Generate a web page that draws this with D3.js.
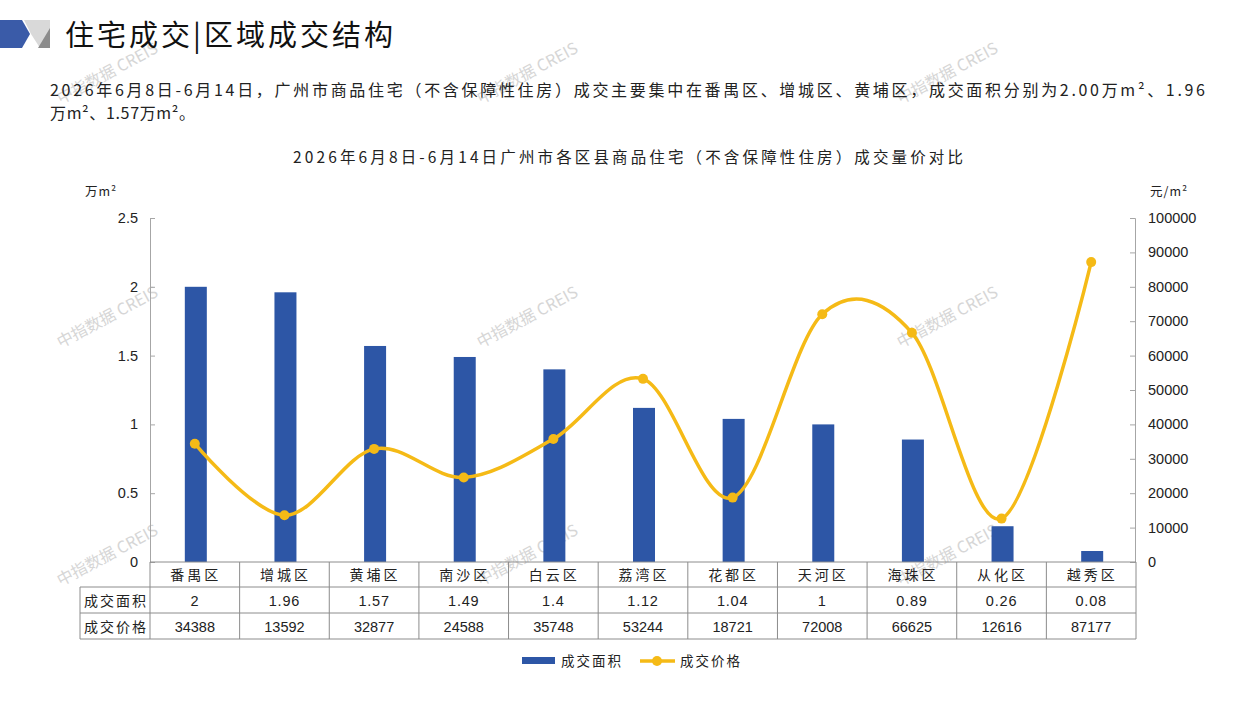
<!DOCTYPE html>
<html>
<head>
<meta charset="utf-8">
<script src="https://cdn.jsdelivr.net/npm/d3@7"></script>
<style>
  body { margin: 0; background: #fff; }
  svg { display: block; }
  .cn { font-family: "Noto Sans CJK SC", sans-serif; }
  .num { font-family: "Liberation Sans", Arial, sans-serif; }
</style>
</head>
<body>
<script>
// district names, area (万m²) and price (元/m²)
var districts = ["番禺区", "增城区", "黄埔区", "南沙区", "白云区", "荔湾区", "花都区", "天河区", "海珠区", "从化区", "越秀区"];
var areaValues = [2, 1.96, 1.57, 1.49, 1.4, 1.12, 1.04, 1, 0.89, 0.26, 0.08];
var priceValues = [34388, 13592, 32877, 24588, 35748, 53244, 18721, 72008, 66625, 12616, 87177];
var areaTicks = [0, 0.5, 1, 1.5, 2, 2.5];
var priceTicks = [0, 10000, 20000, 30000, 40000, 50000, 60000, 70000, 80000, 90000, 100000];
var rowNames = ["成交面积", "成交价格"];

var pageTitle = "住宅成交|区域成交结构";
var paraLine1 = "2026年6月8日-6月14日，广州市商品住宅（不含保障性住房）成交主要集中在番禺区、增城区、黄埔区，成交面积分别为2.00万m²、1.96";
var paraLine2 = "万m²、1.57万m²。";
var chartTitle = "2026年6月8日-6月14日广州市各区县商品住宅（不含保障性住房）成交量价对比";

window.onload = draw();

function draw(){
    var width = 1257, height = 706;
    var blue = "#2D56A6", yellow = "#F5BA16", grey = "#A6A6A6", ink = "#222";

    var svg = d3.select("body").append("svg")
        .attr("width", width)
        .attr("height", height);

    //watermarks
    var wmX = [110, 530, 950], wmY = [78, 322, 560];
    wmY.forEach(function(y){
        wmX.forEach(function(x){
            svg.append("text")
                .attr("class", "cn")
                .attr("transform", "translate(" + x + "," + y + ") rotate(-28)")
                .attr("text-anchor", "middle")
                .attr("font-size", 16)
                .attr("fill", "#d6d6d6")
                .text("中指数据 CREIS");
        });
    });

    //logo in the corner
    svg.append("polygon").attr("points", "0,20 22,20 30,34 22,48 0,48").attr("fill", "#3A5BA8");
    svg.append("polygon").attr("points", "24,20 50,20 50,48 40,48 31,34").attr("fill", "#D9D9D9");
    svg.append("polygon").attr("points", "50,28 50,48 38,48").attr("fill", "#8C8C8C");

    svg.append("text").attr("class", "cn")
        .attr("x", 65).attr("y", 46)
        .attr("font-size", 29).attr("fill", "#111")
        .attr("textLength", 328).attr("lengthAdjust", "spacing")
        .text(pageTitle);

    svg.append("text").attr("class", "cn")
        .attr("x", 50).attr("y", 96)
        .attr("font-size", 16).attr("fill", ink)
        .attr("textLength", 1155).attr("lengthAdjust", "spacing")
        .text(paraLine1);
    svg.append("text").attr("class", "cn")
        .attr("x", 50).attr("y", 119)
        .attr("font-size", 16).attr("fill", ink)
        .attr("textLength", 145).attr("lengthAdjust", "spacing")
        .text(paraLine2);

    svg.append("text").attr("class", "cn")
        .attr("x", 628).attr("y", 163)
        .attr("text-anchor", "middle")
        .attr("font-size", 15.5).attr("fill", ink)
        .attr("textLength", 670).attr("lengthAdjust", "spacing")
        .text(chartTitle);

    //plot area
    var left = 150, right = 1136, top = 218, bottom = 562;

    var x = d3.scaleBand()
        .domain(districts)
        .range([left, right]);

    var yArea = d3.scaleLinear().domain([0, 2.5]).range([bottom, top]);
    var yPrice = d3.scaleLinear().domain([0, 100000]).range([bottom, top]);

    var leftAxis = svg.append("g")
        .attr("transform", "translate(" + left + ",0)")
        .call(d3.axisRight(yArea).tickValues(areaTicks).tickSize(5).tickFormat(""));
    leftAxis.selectAll("path, line").attr("stroke", grey);

    svg.selectAll(".ltick").data(areaTicks).enter().append("text")
        .attr("class", "num ltick")
        .attr("x", 138).attr("y", function(d){ return yArea(d) + 5; })
        .attr("text-anchor", "end")
        .attr("font-size", 14.5).attr("fill", ink)
        .text(function(d){ return d; });

    var rightAxis = svg.append("g")
        .attr("transform", "translate(" + (right - 1) + ",0)")
        .call(d3.axisLeft(yPrice).tickValues(priceTicks).tickSize(5).tickFormat(""));
    rightAxis.selectAll("path, line").attr("stroke", grey);

    svg.selectAll(".rtick").data(priceTicks).enter().append("text")
        .attr("class", "num rtick")
        .attr("x", 1148).attr("y", function(d){ return yPrice(d) + 5; })
        .attr("font-size", 14.5).attr("fill", ink)
        .text(function(d){ return d; });

    svg.append("text").attr("class", "cn")
        .attr("x", 85).attr("y", 196)
        .attr("font-size", 12.5).attr("letter-spacing", 1).attr("fill", ink)
        .text("万m²");
    svg.append("text").attr("class", "cn")
        .attr("x", 1150).attr("y", 196)
        .attr("font-size", 12.5).attr("letter-spacing", 1).attr("fill", ink)
        .text("元/m²");

    //bars
    var barW = 22;
    svg.selectAll(".bar").data(areaValues).enter().append("rect")
        .attr("class", "bar")
        .attr("x", function(d, i){ return x(districts[i]) + x.bandwidth() / 2 - barW / 2 + 1; })
        .attr("y", function(d){ return yArea(d); })
        .attr("width", barW)
        .attr("height", function(d){ return bottom - yArea(d); })
        .attr("fill", blue);

    //smoothed price line
    var line = d3.line()
        .x(function(d, i){ return x(districts[i]) + x.bandwidth() / 2; })
        .y(function(d){ return yPrice(d); })
        .curve(d3.curveCardinal.tension(0));

    svg.append("path")
        .datum(priceValues)
        .attr("d", line)
        .attr("fill", "none")
        .attr("stroke", yellow)
        .attr("stroke-width", 3.5);

    svg.selectAll(".dot").data(priceValues).enter().append("circle")
        .attr("class", "dot")
        .attr("cx", function(d, i){ return x(districts[i]) + x.bandwidth() / 2; })
        .attr("cy", function(d){ return yPrice(d); })
        .attr("r", 5)
        .attr("fill", yellow);

    //data table under the plot
    var rowH = [562, 587, 613, 639];
    var tableLeft = 80;
    var border = "#8c8c8c";
    var table = svg.append("g").attr("stroke", border).attr("stroke-width", 1).attr("fill", "none");

    table.append("line").attr("x1", left).attr("x2", right).attr("y1", rowH[0]).attr("y2", rowH[0]);
    [1, 2, 3].forEach(function(r){
        table.append("line").attr("x1", tableLeft).attr("x2", right).attr("y1", rowH[r]).attr("y2", rowH[r]);
    });
    table.append("line").attr("x1", tableLeft).attr("x2", tableLeft).attr("y1", rowH[1]).attr("y2", rowH[3]);
    var colEdges = [left].concat(districts.map(function(d){ return x(d) + x.bandwidth(); }));
    colEdges.forEach(function(cx){
        table.append("line").attr("x1", cx).attr("x2", cx).attr("y1", rowH[0]).attr("y2", rowH[3]);
    });

    svg.selectAll(".cat").data(districts).enter().append("text")
        .attr("class", "cn cat")
        .attr("x", function(d){ return x(d) + x.bandwidth() / 2 + 1; })
        .attr("y", 580)
        .attr("text-anchor", "middle")
        .attr("font-size", 14).attr("letter-spacing", 3).attr("fill", ink)
        .text(function(d){ return d; });

    rowNames.forEach(function(name, r){
        svg.append("text").attr("class", "cn")
            .attr("x", 116).attr("y", rowH[r + 1] + 19)
            .attr("text-anchor", "middle")
            .attr("font-size", 14).attr("letter-spacing", 2).attr("fill", ink)
            .text(name);
    });

    svg.selectAll(".areaVal").data(areaValues).enter().append("text")
        .attr("class", "num areaVal")
        .attr("x", function(d, i){ return x(districts[i]) + x.bandwidth() / 2; })
        .attr("y", 606)
        .attr("text-anchor", "middle")
        .attr("font-size", 14.5).attr("letter-spacing", 0.8).attr("fill", ink)
        .text(function(d){ return String(d); });

    svg.selectAll(".priceVal").data(priceValues).enter().append("text")
        .attr("class", "num priceVal")
        .attr("x", function(d, i){ return x(districts[i]) + x.bandwidth() / 2; })
        .attr("y", 632)
        .attr("text-anchor", "middle")
        .attr("font-size", 14.5).attr("fill", ink)
        .text(function(d){ return String(d); });

    //legend
    svg.append("rect").attr("x", 522).attr("y", 657).attr("width", 33).attr("height", 7).attr("fill", blue);
    svg.append("text").attr("class", "cn")
        .attr("x", 561).attr("y", 666)
        .attr("font-size", 13.5).attr("letter-spacing", 2).attr("fill", ink)
        .text("成交面积");
    svg.append("line").attr("x1", 640).attr("x2", 675).attr("y1", 661).attr("y2", 661)
        .attr("stroke", yellow).attr("stroke-width", 3.5);
    svg.append("circle").attr("cx", 657).attr("cy", 661).attr("r", 5).attr("fill", yellow);
    svg.append("text").attr("class", "cn")
        .attr("x", 680).attr("y", 666)
        .attr("font-size", 13.5).attr("letter-spacing", 2).attr("fill", ink)
        .text("成交价格");
}
</script>
</body>
</html>
